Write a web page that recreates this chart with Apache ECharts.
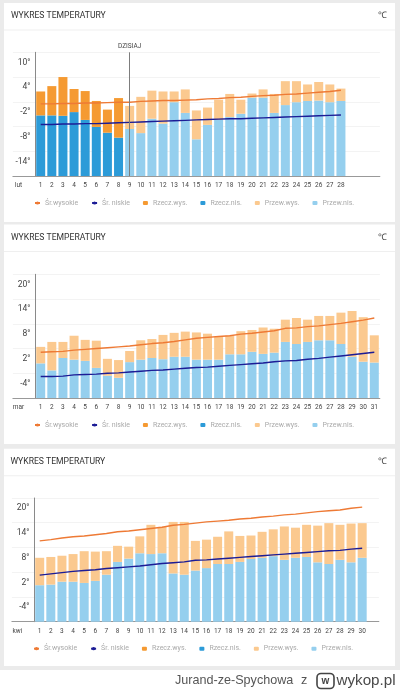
<!DOCTYPE html>
<html><head><meta charset="utf-8">
<style>html,body{margin:0;padding:0;background:#fff}#c{width:400px;height:690px}</style>
<script src="https://cdn.jsdelivr.net/npm/echarts@6/dist/echarts.min.js"></script>
</head><body><div id="c"></div>
<script>
const febDays = ['1','2','3','4','5','6','7','8','9','10','11','12','13','14','15','16','17','18','19','20','21','22','23','24','25','26','27','28'];
const febHigh = [6.5,7.8,10,7.1,6.6,4.2,2.1,4.9,3,5.2,6.7,6.5,6.5,7,1.9,2.6,4.5,5.9,4.5,6,7,5.9,9,9,8.2,8.8,8.2,7.2];
const febLow = [0.7,0.7,0.6,1.5,-0.4,-2.1,-3.5,-4.7,-2.6,-3.6,-0.1,-1.3,3.9,1.3,-5.1,-1.6,-0.4,0.3,1.1,5,5,1.3,3.2,3.9,4.2,4.3,3.9,4.2];
const febAvgHigh = [3.5,3.5,3.6,3.6,3.7,3.7,3.8,3.9,3.9,4.1,4.2,4.3,4.3,4.4,4.5,4.7,4.8,5,5.1,5.3,5.5,5.6,5.8,5.9,6.1,6.3,6.5,6.8];
const febAvgLow = [-1.5,-1.5,-1.4,-1.4,-1.3,-1.3,-1.2,-1.1,-1,-0.9,-0.8,-0.7,-0.6,-0.5,-0.4,-0.3,-0.2,-0.1,-0.1,0,0.1,0.2,0.3,0.4,0.5,0.6,0.7,0.8];
const febRealDays = 8;

const marDays = ['1','2','3','4','5','6','7','8','9','10','11','12','13','14','15','16','17','18','19','20','21','22','23','24','25','26','27','28','29','30','31'];
const marHigh = [8.4,9.6,9.6,11.1,10.1,9.9,5.5,5.2,7.4,10,10.3,11.3,11.8,12.1,11.9,11.6,10.9,11.1,12.2,12.5,13.1,12.8,15,15.4,15,15.9,15.9,16.7,17.1,15.6,11.2];
const marLow = [4.4,2.7,5.7,5.3,5,3.3,1.4,0.9,4.7,5.3,5.7,5.4,6,6,5.3,5.3,5.3,6.6,6.6,7.2,6.7,7,9.6,9.1,9.6,10,10,9.1,6,4.8,4.6];
const marAvgHigh = [7.1,7.2,7.3,7.6,7.8,8,8.2,8.4,8.6,8.9,9.2,9.4,9.7,10.1,10.5,10.7,10.9,11.1,11.5,11.7,12,12.3,12.9,13,13.3,13.5,13.8,14.1,14.5,14.9,15.4];
const marAvgLow = [1.2,1.2,1.3,1.6,1.7,1.8,2,2.1,2.3,2.5,2.7,2.8,3,3.2,3.4,3.5,3.7,3.9,4.1,4.3,4.5,4.8,5,5.1,5.4,5.6,5.9,6.2,6.5,6.8,7.1];

const aprDays = ['1','2','3','4','5','6','7','8','9','10','11','12','13','14','15','16','17','18','19','20','21','22','23','24','25','26','27','28','29','30'];
const aprHigh = [11.5,11.7,12,12.4,13.1,13,13.1,14.4,14.2,16.7,19.5,19,20.2,20.2,15.6,15.9,16.6,17.9,16.8,16.9,17.8,18.4,19.1,18.8,19.5,19.3,19.9,19.5,19.8,19.9];
const aprLow = [4.85,5,5.7,5.7,5.4,5.9,7.4,10.5,11.3,12.6,12.4,12.6,7.7,7.4,8.4,9,10,10,10.5,11.2,11.5,11.9,11,11.5,11.7,10.4,10,11,10.4,11.5];
const aprAvgHigh = [15.6,15.9,16.3,16.6,16.8,17.1,17.4,17.8,18,18.3,18.6,18.9,19.4,19.6,19.9,20.2,20.4,20.6,20.9,21.1,21.4,21.6,21.9,22.1,22.4,22.7,22.9,23.1,23.5,23.8];
const aprAvgLow = [7.3,7.6,7.9,8.2,8.4,8.6,8.9,9.1,9.3,9.5,9.8,10.1,10.3,10.5,10.9,11,11.2,11.4,11.6,11.8,12,12.2,12.4,12.6,12.8,13,13.2,13.3,13.6,13.8];

const names = {avgHigh:'Śr.wysokie', avgLow:'Śr. niskie', realHigh:'Rzecz.wys.', realLow:'Rzecz.nis.', foreHigh:'Przew.wys.', foreLow:'Przew.nis.'};
const colors = {avgHigh:'#ee7a35', avgLow:'#1c1c96', realHigh:'#f59a32', realLow:'#2c9bd8', foreHigh:'#fbc98f', foreLow:'#95cfee'};
const FONT = 'Roboto, sans-serif';

const panels = [
 {month:'lut', days:febDays, high:febHigh, low:febLow, avgHigh:febAvgHigh, avgLow:febAvgLow, real:febRealDays, min:-14, ticks:[-14,-8,-2,4,10,16], top:52.3, bottom:176, card:[4,3,391,219], shift:0, today:'9'},
 {month:'mar', days:marDays, high:marHigh, low:marLow, avgHigh:marAvgHigh, avgLow:marAvgLow, real:0, min:-4, ticks:[-4,2,8,14,20,26], top:274.3, bottom:398, card:[4,224.5,391,219.5], shift:0},
 {month:'kwi', days:aprDays, high:aprHigh, low:aprLow, avgHigh:aprAvgHigh, avgLow:aprAvgLow, real:0, min:-4, ticks:[-4,2,8,14,20,26], top:498, bottom:621.7, card:[4,448.7,391,217.3], shift:-1}
];

const BANDS = 33, BAND = 11.12, LEFT = 12.9;
const grid=[], xAxis=[], yAxis=[], series=[], legend=[], graphic=[];
graphic.push({type:'rect',silent:true,z:-10,shape:{x:0,y:0,width:400,height:670},style:{fill:'#ebebeb'}});

panels.forEach((p,i)=>{
  const [cx,cy,cw,ch]=p.card;
  graphic.push({type:'rect',silent:true,z:-9,shape:{x:cx,y:cy,width:cw,height:ch},style:{fill:'#fff'}});
  const hy = cy+26.5;
  graphic.push({type:'rect',silent:true,z:-8,shape:{x:cx,y:hy,width:cw,height:1},style:{fill:'#efefef'}});
  graphic.push({type:'text',z:5,style:{x:11+p.shift*0.5,y:cy+13.2,text:'WYKRES TEMPERATURY',font:'8.6px '+FONT,fill:'#333',verticalAlign:'middle'}});
  graphic.push({type:'text',z:5,style:{x:387,y:cy+13.2,text:'℃',font:'9px '+FONT,fill:'#444',align:'right',verticalAlign:'middle'}});

  grid.push({left:LEFT+p.shift,width:BAND*BANDS,top:p.top,height:p.bottom-p.top,containLabel:false});
  const cats=[p.month,''].concat(p.days);
  while(cats.length<BANDS) cats.push(' ');
  xAxis.push({type:'category',gridIndex:i,data:cats,
    axisLine:{onZero:false,lineStyle:{color:'#999',width:1}},axisTick:{show:false},
    axisLabel:{interval:0,fontSize:6.5,color:'#444',margin:6,fontFamily:FONT}});
  yAxis.push({type:'value',gridIndex:i,min:p.min,max:p.ticks[5],offset:-22.6,
    axisLine:{show:true,lineStyle:{color:'#8a8a8a',width:1}},axisTick:{show:false,customValues:p.ticks},
    splitLine:{show:true,lineStyle:{color:'#f3f3f3',width:1}},
    axisLabel:{customValues:p.ticks.slice(0,5),formatter:v=>v+'°',fontSize:8.5,color:'#444',margin:5,verticalAlign:'bottom',padding:[0,0,10,0],fontFamily:FONT}});

  const pad=a=>[null,null].concat(a);
  const stack='s'+i;
  const today=p.today?{symbol:'none',silent:true,animation:false,lineStyle:{color:'#7d7d7d',type:'solid',width:1},
     label:{show:true,position:'end',formatter:'DZISIAJ',fontSize:6.5,color:'#444',distance:2,fontFamily:FONT},data:[{xAxis:p.today}]}:undefined;
  const bar=(name,arr,color)=>({type:'bar',name,xAxisIndex:i,yAxisIndex:i,data:pad(arr),barWidth:9,stack,stackStrategy:'all',itemStyle:{color},animation:false,z:2});
  const line=(name,arr,color,extra)=>Object.assign({type:'line',name,xAxisIndex:i,yAxisIndex:i,data:pad(arr),symbol:'none',lineStyle:{color,width:1.4},itemStyle:{color},animation:false,z:4},extra||{});
  // przezroczysta podstawa: od zera do dolnej krawędzi osi, dalej słupki w stosie
  series.push(bar('podstawa',p.high.map(()=>p.min),'rgba(0,0,0,0)'));
  const lowPart=(d)=>p.low[d]-p.min, highPart=(d)=>p.high[d]-p.low[d];
  series.push(bar(names.realLow,p.low.map((v,d)=>d<p.real?lowPart(d):0),colors.realLow));
  series.push(bar(names.realHigh,p.high.map((v,d)=>d<p.real?highPart(d):0),colors.realHigh));
  series.push(bar(names.foreLow,p.low.map((v,d)=>d>=p.real?lowPart(d):0),colors.foreLow));
  series.push(bar(names.foreHigh,p.high.map((v,d)=>d>=p.real?highPart(d):0),colors.foreHigh));
  series.push(line(names.avgHigh,p.avgHigh,colors.avgHigh,today?{markLine:today}:{}));
  series.push(line(names.avgLow,p.avgLow,colors.avgLow));

  legend.push({left:34+p.shift,top:p.bottom+23.5,padding:0,itemWidth:5,itemHeight:4,itemGap:13,selectedMode:false,
    data:[names.avgHigh,names.avgLow,names.realHigh,names.realLow,names.foreHigh,names.foreLow],
    textStyle:{fontSize:7,color:'#aaa',fontFamily:FONT}});
});

// stopka
const FOOT='"Liberation Sans", sans-serif';
graphic.push({type:'text',z:5,style:{x:175,y:681,text:'Jurand-ze-Spychowa',font:'12.6px '+FOOT,fill:'#555',verticalAlign:'middle'}});
graphic.push({type:'text',z:5,style:{x:301,y:681,text:'z',font:'12.6px '+FOOT,fill:'#555',verticalAlign:'middle'}});
graphic.push({type:'rect',z:5,shape:{x:317,y:673.5,width:17,height:15,r:4},style:{fill:'none',stroke:'#444',lineWidth:1.6}});
graphic.push({type:'text',z:6,style:{x:325.5,y:681,text:'w',font:'bold 10px '+FOOT,fill:'#444',align:'center',verticalAlign:'middle'}});
graphic.push({type:'text',z:5,style:{x:336.5,y:680.5,text:'wykop.pl',font:'15.2px '+FOOT,fill:'#4a4a4a',verticalAlign:'middle'}});

const chart=echarts.init(document.getElementById('c'),null,{renderer:'canvas'});
chart.setOption({animation:false,backgroundColor:'#fff',grid,xAxis,yAxis,series,legend,graphic,tooltip:{show:false}});
</script></body></html>
